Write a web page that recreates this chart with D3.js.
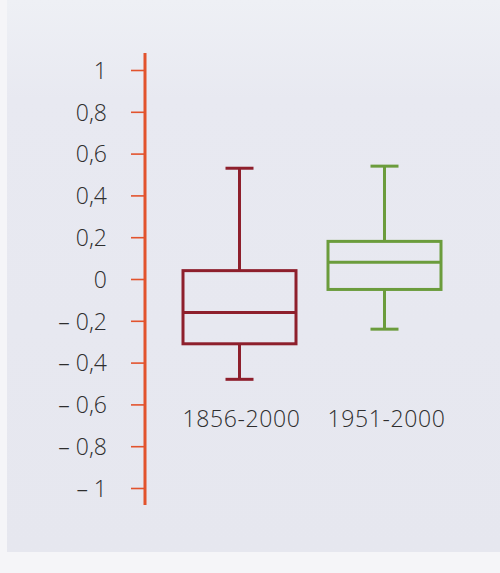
<!DOCTYPE html>
<html>
<head>
<meta charset="utf-8">
<script src="https://cdn.jsdelivr.net/npm/d3@7"></script>
<style>
  html, body { margin: 0; padding: 0; background: #f6f6f8; }
  svg { display: block; }
</style>
</head>
<body>
<script>
// Temperature anomaly distributions (°C) for two periods
const periods = ["1856-2000", "1951-2000"];
const whiskerLow  = [-0.48, -0.24];
const quartileLow = [-0.31, -0.05];
const medians     = [-0.16, 0.08];
const quartileHigh= [0.04, 0.18];
const whiskerHigh = [0.53, 0.54];
const boxColors   = ["#8e1f2c", "#6b9c3c"];
const yTicks = [1, 0.8, 0.6, 0.4, 0.2, 0, -0.2, -0.4, -0.6, -0.8, -1];

const W = 500, H = 573;
const svg = d3.select("body").append("svg").attr("width", W).attr("height", H);

// paper background, slightly lighter towards the top
const grad = svg.append("defs").append("linearGradient")
  .attr("id", "paper").attr("x1", 0).attr("y1", 0).attr("x2", 0).attr("y2", 1);
grad.append("stop").attr("offset", "0%").attr("stop-color", "#eef0f5");
grad.append("stop").attr("offset", "18%").attr("stop-color", "#e8e9f1");
grad.append("stop").attr("offset", "100%").attr("stop-color", "#e6e7ef");
svg.append("rect").attr("x", 0).attr("y", 0).attr("width", W).attr("height", H).attr("fill", "#f5f5f8");
svg.append("rect").attr("x", 7).attr("y", 0).attr("width", W - 7).attr("height", 552).attr("fill", "url(#paper)");

const y = d3.scaleLinear().domain([-1, 1]).range([488, 70]);
const x = d3.scalePoint().domain(periods).range([239.5, 384.5]);
const boxW = 113, capW = 28;
const fontFamily = "'Open Sans', 'Noto Sans', sans-serif";

// vertical axis
const axisX = 145;
svg.append("line")
  .attr("x1", axisX).attr("x2", axisX).attr("y1", 53).attr("y2", 505)
  .attr("stroke", "#e2532d").attr("stroke-width", 3);

const yAxis = d3.axisLeft(y).tickValues(yTicks).tickSize(14).tickPadding(24)
  .tickFormat(d => {
    const s = d3.format("")(Math.abs(d)).replace(".", ",");
    return d < 0 ? "\u2013 " + s : s;
  });
const gy = svg.append("g").attr("transform", `translate(${axisX},0)`).call(yAxis);
gy.select(".domain").remove();
gy.selectAll(".tick line").attr("stroke", "#e2532d").attr("stroke-width", 1.6);
gy.selectAll(".tick text")
  .attr("fill", "#2e2e2e")
  .attr("dy", "0.36em")
  .style("font-family", fontFamily)
  .style("font-weight", 300)
  .style("font-size", "23px");

// box plots
const boxes = svg.append("g").selectAll("g").data(periods).join("g");
boxes.each(function(p, i) {
  const g = d3.select(this);
  const cx = x(p), c = boxColors[i];
  const sw = 3;
  g.append("line").attr("x1", cx).attr("x2", cx)
    .attr("y1", y(whiskerHigh[i])).attr("y2", y(quartileHigh[i]))
    .attr("stroke", c).attr("stroke-width", sw);
  g.append("line").attr("x1", cx).attr("x2", cx)
    .attr("y1", y(quartileLow[i])).attr("y2", y(whiskerLow[i]))
    .attr("stroke", c).attr("stroke-width", sw);
  [whiskerHigh[i], whiskerLow[i]].forEach(v => {
    g.append("line").attr("x1", cx - capW / 2).attr("x2", cx + capW / 2)
      .attr("y1", y(v)).attr("y2", y(v))
      .attr("stroke", c).attr("stroke-width", sw);
  });
  g.append("rect")
    .attr("x", cx - boxW / 2).attr("width", boxW)
    .attr("y", y(quartileHigh[i])).attr("height", y(quartileLow[i]) - y(quartileHigh[i]))
    .attr("fill", "none").attr("stroke", c).attr("stroke-width", sw);
  g.append("line").attr("x1", cx - boxW / 2).attr("x2", cx + boxW / 2)
    .attr("y1", y(medians[i])).attr("y2", y(medians[i]))
    .attr("stroke", c).attr("stroke-width", sw);
  g.append("text")
    .attr("x", cx + 2).attr("y", 427)
    .attr("text-anchor", "middle")
    .attr("fill", "#2e2e2e")
    .style("font-family", fontFamily)
    .style("font-weight", 300)
    .style("font-size", "23px")
    .style("letter-spacing", "0.6px")
    .text(p);
});
</script>
</body>
</html>
